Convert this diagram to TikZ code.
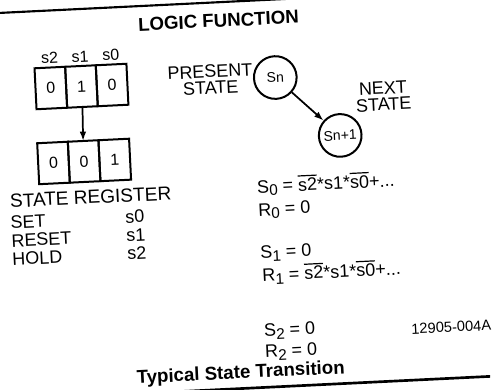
\documentclass[tikz,border=0pt]{standalone}
\usepackage{fontspec}
\setmainfont{Liberation Sans}
\usetikzlibrary{arrows.meta,positioning}

\tikzset{every picture/.style={line width=0.75pt}}
\tikzset{
  txt/.style={font=\fontsize{13.5}{12.5}\selectfont, inner sep=0pt},
  smalltxt/.style={font=\fontsize{12}{12}\selectfont, inner sep=0pt},
  boldtxt/.style={font=\bfseries\fontsize{14}{16}\selectfont, inner sep=0pt},
  regcell/.style={draw, line width=1.5pt, minimum width=23pt, minimum height=30.75pt,
    inner sep=0pt, outer sep=0pt, font=\fontsize{12}{12}\selectfont},
  stcirc/.style={draw, circle, line width=1.5pt, minimum size=32pt, inner sep=0pt,
    font=\fontsize{10.5}{10.5}\selectfont},
  arr/.style={-{Latex[length=7pt,width=5pt]}, line width=1.3pt},
}
\newcommand{\lowdig}[1]{\raisebox{-0.35ex}{\fontsize{11.5}{11.5}\selectfont #1}}
\newcommand{\barred}[1]{\setbox0\hbox{#1}\rlap{\rule[\dimexpr\ht0+1.4pt\relax]{\wd0}{0.9pt}}\box0}

\begin{document}
\begin{tikzpicture}[x=0.75pt,y=0.75pt,yscale=-1,xscale=1]
\useasboundingbox (0,0) rectangle (496,389);
\clip (0,0) rectangle (496,389);

\begin{scope}[rotate around={-2.8:(248,195)}, every node/.append style={rotate=2.8}]
%Straight Lines: top rule
\draw [line width=1.6pt] (-30,1) -- (560,1) ;
%Straight Lines: bottom rule
\draw [line width=2pt] (-30,388) -- (481,388) ;

% Text Node
\draw (227,19.5) node (lgfn) [boldtxt] {LOGIC FUNCTION};

%Shape: Register (present)
\draw (56.3,78.5) node (cur2) [regcell] {0};
\node (cur1) [regcell, right=0pt of cur2] {1};
\node (cur0) [regcell, right=0pt of cur1] {0};
% Text Node
\node (lbs2) [smalltxt, above=2.5pt of cur2] {s2};
\node (lbs1) [smalltxt, above=2.5pt of cur1] {s1};
\node (lbs0) [smalltxt, above=2.5pt of cur0] {s0};

%Shape: Register (next)
\draw (55.3,153.5) node (nxt2) [regcell] {0};
\node (nxt1) [regcell, right=0pt of nxt2] {0};
\node (nxt0) [regcell, right=0pt of nxt1] {1};
%Straight Lines
\draw [arr] (cur1.south) -- (nxt1.north) ;

% Text Node
\draw (9.5,196) node (streg) [txt, anchor=base west, font=\fontsize{14.3}{14}\selectfont] {STATE REGISTER};
\draw (9,217) node (rset) [txt, anchor=base west] {SET};
\draw (9,235.5) node (rrst) [txt, anchor=base west] {RESET};
\draw (9,254) node (rhld) [txt, anchor=base west] {HOLD};
\draw (124,217) node (vset) [txt, anchor=base west] {s0};
\draw (124,235.5) node (vrst) [txt, anchor=base west] {s1};
\draw (124,254) node (vhld) [txt, anchor=base west] {s2};

%Shape: Circle
\draw (281,79) node (sn) [stcirc] {Sn};
%Shape: Circle
\draw (343,140) node (snn) [stcirc] {Sn+1};
%Straight Lines
\draw [arr] (sn) -- (snn) ;
% Text Node
\draw (216,78) node (prst) [txt, align=center] {PRESENT\\STATE};
% Text Node
\draw (388,103) node (nxst) [txt, align=center] {NEXT\\STATE};

% Text Node
\draw (257,193.5) node (eqsa) [txt, anchor=base west] {S\lowdig{0} = \barred{s2}*s1*\barred{s0}+...};
\draw (257,216.5) node (eqra) [txt, anchor=base west] {R\lowdig{0} = 0};
\draw (257,259) node (eqsb) [txt, anchor=base west] {S\lowdig{1} = 0};
\draw (258,282) node (eqrb) [txt, anchor=base west] {R\lowdig{1} = \barred{s2}*s1*\barred{s0}+...};
\draw (257,337.5) node (eqsc) [txt, anchor=base west] {S\lowdig{2} = 0};
\draw (257,358) node (eqrc) [txt, anchor=base west] {R\lowdig{2} = 0};
% Text Node
\draw (485,342) node (fgno) [anchor=base east, inner sep=0pt, font=\fontsize{11}{11}\selectfont] {12905-004A};
% Text Node
\draw (232,378) node (capt) [boldtxt, anchor=base] {Typical State Transition};
\end{scope}

\end{tikzpicture}
\end{document}
